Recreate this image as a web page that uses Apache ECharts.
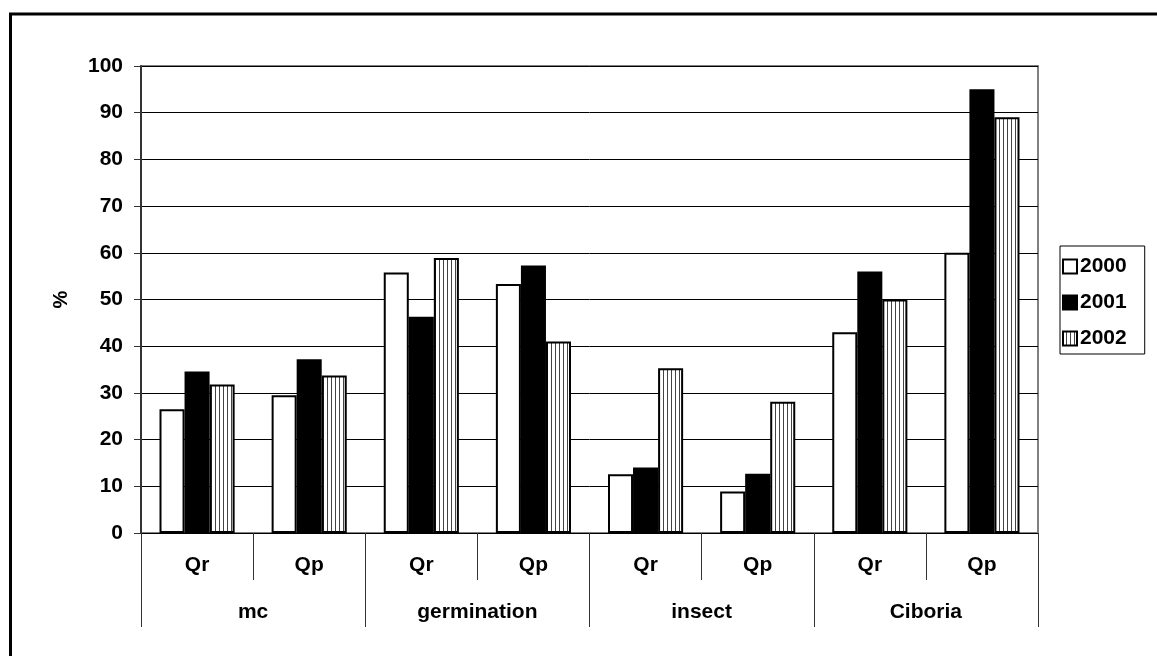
<!DOCTYPE html>
<html><head><meta charset="utf-8">
<script src="https://cdn.jsdelivr.net/npm/echarts@6/dist/echarts.min.js"></script>
<style>html,body{margin:0;padding:0;background:#fff}#c{width:1157px;height:656px}</style>
</head><body><div id="c"></div>
<script>
const subCategories = ['Qr', 'Qp', 'Qr', 'Qp', 'Qr', 'Qp', 'Qr', 'Qp'];
const groupCategories = ['mc', 'germination', 'insect', 'Ciboria'];
const seriesNames = ['2000', '2001', '2002'];
const values2000 = [26.5, 29.5, 55.8, 53.3, 12.6, 8.9, 43, 60];
const values2001 = [34.6, 37.2, 46.3, 57.3, 14, 12.7, 56, 95];
const values2002 = [31.8, 33.7, 58.9, 41, 35.3, 28.1, 50, 89];
const yMin = 0, yMax = 100, yStep = 10;
const yAxisName = '%';

const FONT = "'Liberation Sans', Arial, sans-serif";

function stripePattern() {
  const cv = document.createElement('canvas');
  cv.width = 4; cv.height = 4;
  const ctx = cv.getContext('2d');
  ctx.fillStyle = '#fff'; ctx.fillRect(0, 0, 4, 4);
  ctx.fillStyle = '#444'; ctx.fillRect(3, 0, 1, 4);
  return { image: cv, repeat: 'repeat' };
}

const fills = ['#ffffff', '#000000', stripePattern()];
const valueSets = [values2000, values2001, values2002];

const chart = echarts.init(document.getElementById('c'), null, { renderer: 'canvas' });
const textBase = { fontFamily: FONT, fontWeight: 'bold', fontSize: 21, color: '#000' };

chart.setOption({
  animation: false,
  backgroundColor: '#fff',
  textStyle: { fontFamily: FONT },
  grid: { left: 141, right: 119, top: 66, bottom: 123, show: true, borderColor: '#808080', borderWidth: 2, backgroundColor: 'transparent' },
  legend: {
    orient: 'vertical', left: 1060, top: 246,
    data: seriesNames,
    itemWidth: 14, itemHeight: 14, itemGap: 15,
    padding: [10, 18, 5, 2],
    borderColor: '#000', borderWidth: 1, backgroundColor: '#fff',
    textStyle: Object.assign({}, textBase, { padding: [0, 0, 0, -2] }),
    icon: 'rect'
  },
  xAxis: [
    {
      type: 'category', data: subCategories, position: 'bottom', boundaryGap: true,
      axisLine: { show: true, lineStyle: { color: '#000', width: 1 } },
      axisTick: { show: true, interval: 0, length: 47, lineStyle: { color: '#333', width: 1 } },
      axisLabel: Object.assign({}, textBase, { interval: 0, margin: 22 }),
      splitLine: { show: false }
    },
    {
      type: 'category', data: groupCategories, position: 'bottom', boundaryGap: true,
      axisLine: { show: false },
      axisTick: { show: true, interval: 0, length: 94, lineStyle: { color: '#333', width: 1 } },
      axisLabel: Object.assign({}, textBase, { interval: 0, margin: 69 }),
      splitLine: { show: false }
    }
  ],
  yAxis: {
    type: 'value', min: yMin, max: yMax, interval: yStep,
    name: yAxisName, nameLocation: 'middle', nameGap: 70, nameRotate: 90,
    nameTextStyle: Object.assign({}, textBase, { fontSize: 20 }),
    axisLine: { show: true, lineStyle: { color: '#333', width: 2 } },
    axisTick: { show: true, length: 7, lineStyle: { color: '#333', width: 1 } },
    axisLabel: Object.assign({}, textBase, { margin: 18 }),
    splitLine: { show: true, lineStyle: { color: '#000', width: 1 } }
  },
  series: seriesNames.map((n, i) => ({
    name: n, type: 'bar', xAxisIndex: 0,
    data: valueSets[i],
    barGap: '0%', barCategoryGap: '33%',
    itemStyle: { color: fills[i], borderColor: '#000', borderWidth: 2 }
  })),
  graphic: [{
    type: 'rect', shape: { x: 10.5, y: 14, width: 1300, height: 800 },
    style: { fill: 'none', stroke: '#000', lineWidth: 3 }, z: 100, silent: true
  }]
});
</script></body></html>
